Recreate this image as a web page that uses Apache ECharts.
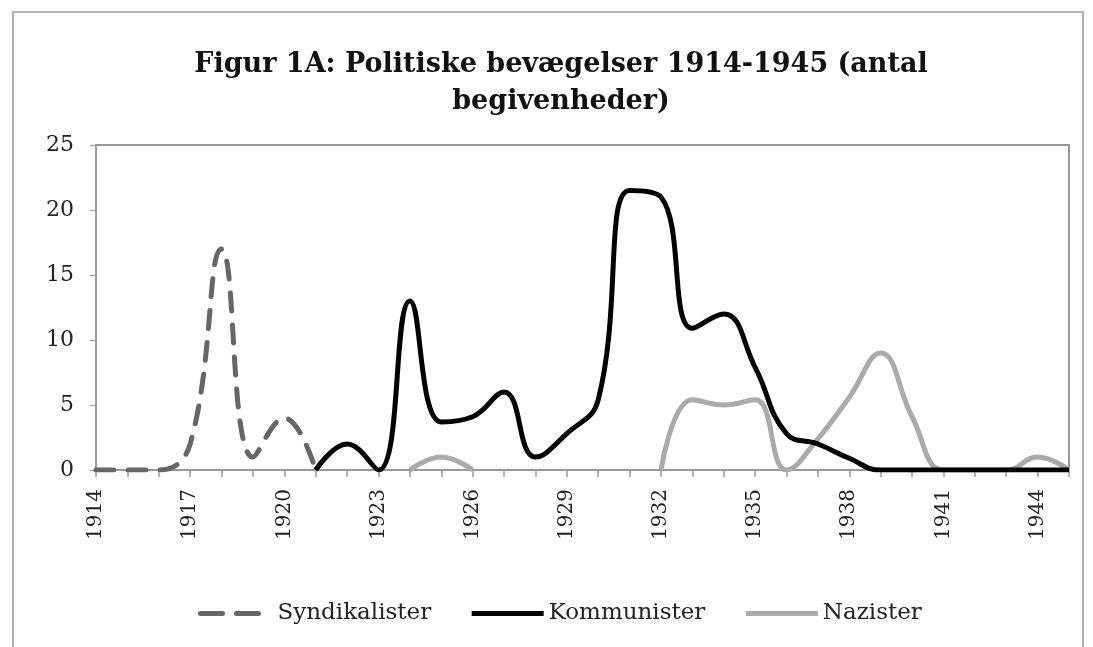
<!DOCTYPE html>
<html><head><meta charset="utf-8">
<script src="https://cdn.jsdelivr.net/npm/echarts@6/dist/echarts.min.js"></script>
<style>
html,body{margin:0;padding:0;background:#fff;}
#frame{position:absolute;left:12px;top:11px;width:1072px;height:640px;border:2px solid #b0b0b0;box-sizing:border-box;}
#c{position:absolute;left:0;top:0;width:1093px;height:647px;}
</style></head>
<body>
<div id="frame"></div>
<div id="c"></div>
<script>
const years = [1914,1915,1916,1917,1918,1919,1920,1921,1922,1923,1924,1925,1926,1927,1928,1929,1930,1931,1932,1933,1934,1935,1936,1937,1938,1939,1940,1941,1942,1943,1944,1945];
const syndikalister = [0,0,0,2,17,1,4,0,null,null,null,null,null,null,null,null,null,null,null,null,null,null,null,null,null,null,null,null,null,null,null,null];
const kommunister = [null,null,null,null,null,null,null,0,2,0,13,3.7,4.1,6,1,2.8,5.4,21.5,21,10.9,12,7.9,2.8,2,0.9,0,0,0,0,0,0,0];
const nazister = [null,null,null,null,null,null,null,null,null,null,0,1,0,null,null,null,null,null,0,5.4,5,5.4,0,2.4,5.6,9,4.1,0,0,0,1,0];
const yTicks = [0,5,10,15,20,25];

const chart = echarts.init(document.getElementById('c'));
const serif = '"DejaVu Serif", "Liberation Serif", serif';
chart.setOption({
  animation:false,
  title:{text:'Figur 1A: Politiske bevægelser 1914-1945 (antal\nbegivenheder)', left:556, textAlign:'center', top:41,
    textStyle:{fontFamily:serif, fontWeight:'bold', fontSize:27, color:'#111', lineHeight:37}},
  legend:{top:597, left:193, itemGap:38, itemWidth:72, itemHeight:12,
    textStyle:{fontFamily:serif, fontSize:23, color:'#222'},
    data:[
      {name:'Syndikalister', itemStyle:{opacity:0}, lineStyle:{width:5, type:[22,14], color:'#666'}},
      {name:'Kommunister', itemStyle:{opacity:0}, lineStyle:{width:5, color:'#000'}},
      {name:'Nazister', itemStyle:{opacity:0}, lineStyle:{width:5, color:'#aaa'}}
    ]},
  grid:{left:96, right:24, top:145, bottom:177, show:true, borderColor:'#999', borderWidth:2},
  xAxis:{type:'category', data:years.map(String), boundaryGap:false,
    axisLine:{lineStyle:{color:'#999', width:2}},
    axisTick:{show:true, interval:0, length:7, lineStyle:{color:'#999', width:1.5}},
    axisLabel:{interval:2, rotate:90, fontFamily:serif, fontSize:20, color:'#222', margin:19},
    splitLine:{show:false}},
  yAxis:{type:'value', min:0, max:25, interval:5,
    axisLine:{show:true, lineStyle:{color:'#999', width:2}},
    axisTick:{show:true, length:6, lineStyle:{color:'#999'}},
    axisLabel:{fontFamily:serif, fontSize:22, color:'#222', margin:22,
      formatter:v=>yTicks.includes(v)?String(v):''},
    splitLine:{show:false}},
  series:[
    {name:'Syndikalister', type:'line', data:syndikalister, smooth:0.45, symbol:'none', connectNulls:false,
      lineStyle:{color:'#666', width:5, type:[18,14], cap:'round'}, itemStyle:{color:'#666'}, z:3},
    {name:'Kommunister', type:'line', data:kommunister, smooth:0.45, symbol:'none',
      lineStyle:{color:'#000', width:5}, itemStyle:{color:'#000'}, z:4},
    {name:'Nazister', type:'line', data:nazister, smooth:0.45, symbol:'none',
      lineStyle:{color:'#aaa', width:5}, itemStyle:{color:'#aaa'}, z:2}
  ]
});
</script>
</body></html>
